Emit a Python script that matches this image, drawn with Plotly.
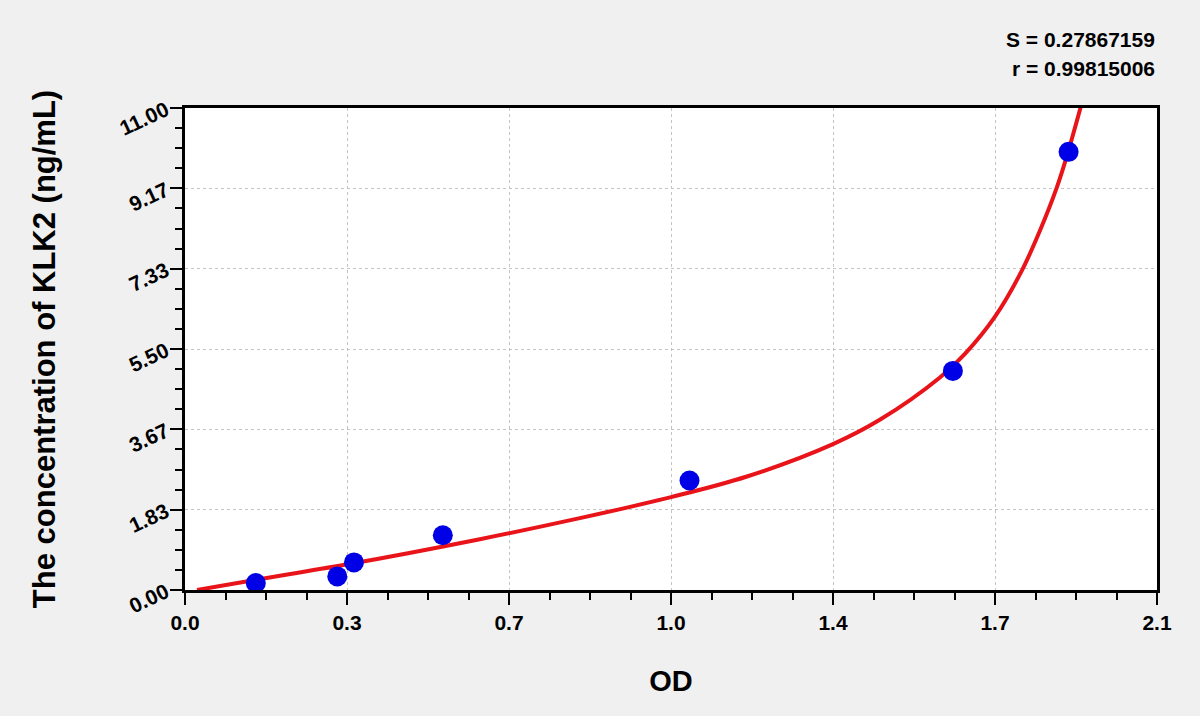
import plotly.graph_objects as go

# standards (OD vs concentration)
od = [0.153, 0.329, 0.365, 0.557, 1.090, 1.659, 1.909]
conc = [0.16, 0.31, 0.63, 1.25, 2.50, 5.00, 10.00]

# fitted curve
curve_od = [0.026, 0.151, 0.348, 0.637, 0.853, 1.050, 1.214, 1.400, 1.502,
            1.631, 1.685, 1.750, 1.808, 1.847, 1.884, 1.906, 1.940]
curve_conc = [0.00, 0.23, 0.58, 1.16, 1.64, 2.12, 2.59, 3.33, 3.89,
              4.85, 5.39, 6.24, 7.29, 8.20, 9.20, 9.93, 11.21]

x_tickvals = [0, 0.35, 0.70, 1.05, 1.40, 1.75, 2.10]
x_ticktext = ['0.0', '0.3', '0.7', '1.0', '1.4', '1.7', '2.1']
y_tickvals = [0, 11 / 6, 22 / 6, 33 / 6, 44 / 6, 55 / 6, 11]
y_ticktext = ['0.00', '1.83', '3.67', '5.50', '7.33', '9.17', '11.00']

s_text = 'S = 0.27867159'
r_text = 'r = 0.99815006'

font = 'Liberation Sans, Arial, sans-serif'

fig = go.Figure()

fig.add_trace(go.Scatter(x=curve_od, y=curve_conc, mode='lines',
                         line=dict(color='#e8141a', width=4, shape='spline'),
                         hoverinfo='skip'))

fig.add_trace(go.Scatter(x=od, y=conc, mode='markers',
                         marker=dict(color='#0000e6', size=20),
                         cliponaxis=False))

axis_common = dict(showline=True, linecolor='black', linewidth=2.5, mirror=True,
                   ticks='outside', ticklen=12, tickwidth=2, tickcolor='black',
                   showgrid=True, gridcolor='#c4c4c4', gridwidth=1, griddash='dot',
                   zeroline=False, tickmode='array')

fig.update_xaxes(range=[0, 2.1], tickvals=x_tickvals, ticktext=x_ticktext,
                 tickfont=dict(family=font, size=21, color='black', weight=700),
                 minor=dict(dtick=0.0875, tick0=0, ticks='outside', ticklen=7,
                            tickwidth=2, tickcolor='black', showgrid=False),
                 title=dict(text='OD', standoff=38,
                            font=dict(family=font, size=29, color='black', weight=700)),
                 **axis_common)

fig.update_yaxes(range=[0, 11], tickvals=y_tickvals, ticktext=y_ticktext, tickangle=-25,
                 tickfont=dict(family=font, size=21, color='black', weight=700),
                 minor=dict(dtick=11 / 24, tick0=0, ticks='outside', ticklen=7,
                            tickwidth=2, tickcolor='black', showgrid=False),
                 title=dict(text='The concentration of KLK2 (ng/mL)', standoff=52,
                            font=dict(family=font, size=31, color='black', weight=700)),
                 **axis_common)

fig.add_annotation(text=s_text, xref='paper', yref='paper', x=1.0, y=1.0,
                   xanchor='right', yanchor='middle', yshift=69, showarrow=False,
                   font=dict(family=font, size=21, color='black', weight=700))
fig.add_annotation(text=r_text, xref='paper', yref='paper', x=1.0, y=1.0,
                   xanchor='right', yanchor='middle', yshift=40, showarrow=False,
                   font=dict(family=font, size=21, color='black', weight=700))

fig.update_layout(width=1200, height=716, showlegend=False,
                  paper_bgcolor='#f0f0f0', plot_bgcolor='white',
                  margin=dict(l=185, r=43, t=108, b=126))

# drop the default page margin so the figure sits flush in the window
fig.write_html("out.html", config={'displayModeBar': False},
               post_script="document.body.style.margin='0';")
